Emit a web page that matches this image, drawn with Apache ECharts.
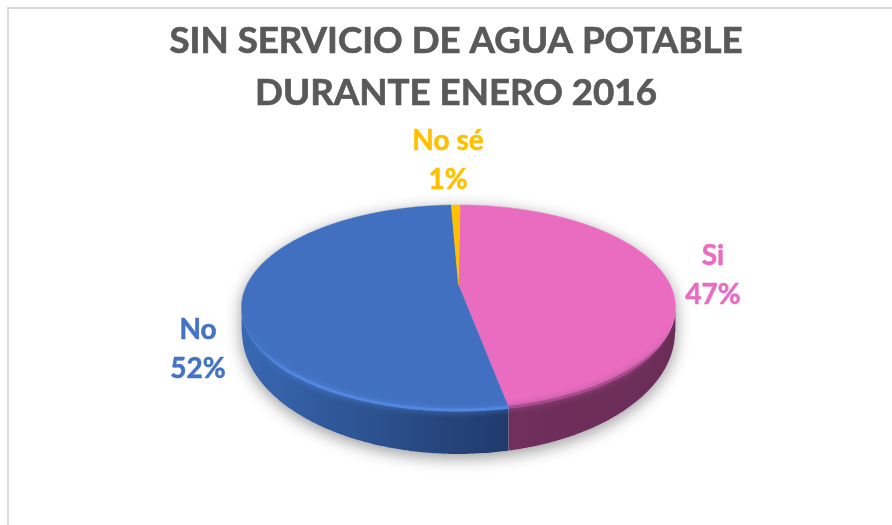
<!DOCTYPE html>
<html>
<head>
<meta charset="utf-8">
<script src="https://cdn.jsdelivr.net/npm/echarts@6/dist/echarts.min.js"></script>
<style>
  html, body { margin: 0; padding: 0; background: #fff; }
  #chart { width: 892px; height: 525px; }
</style>
</head>
<body>
<div id="chart"></div>
<script>
const titleText = 'SIN SERVICIO DE AGUA POTABLE\nDURANTE ENERO 2016';
const categories = ['Si', 'No', 'No sé'];
const values = [46.9, 52.3, 0.8];

const topColors = ['#E96CC0', '#4070BF', '#FFC000'];
const labelColors = ['#E96CC0', '#4472C4', '#FFC000'];
const rimColors = ['#A84C8C', '#5187E0', '#FFC000'];
const sideStops = [
  ['#6A2D58', '#702F5D'],
  ['#3868B2', '#203A6B'],
  ['#7F6000', '#7F6000']
];
const labelSpots = [[713, 275], [198, 349], [448, 160]];

// The pie is a tilted disc, so the centre sits above the middle of the ellipse
const apex = { x: 458.5, y: 285 };
const tilt = 0.2195;
const radiusX = 211.7;
const radiusY = 97.6;
const base = { x: 458.5, y: 332, rx: 216.5, ry: 122 };
const startAngle = 0.5;
const total = values.reduce((a, b) => a + b, 0);

const rad = (deg) => deg * Math.PI / 180;

const topPoint = (deg) => {
  const u = Math.sin(rad(deg));
  const v = -Math.cos(rad(deg));
  const w = 1 - tilt * v;
  return [apex.x + radiusX * u / w, apex.y + radiusY * v / w];
};

const basePoint = (p) => {
  const dx = Math.min(1, Math.abs(p[0] - base.x) / base.rx);
  return [p[0], Math.max(p[1], base.y + base.ry * Math.sqrt(1 - dx * dx))];
};

const arcPoints = (from, to) => {
  const points = [];
  for (let a = from; a < to; a += 0.5) points.push(topPoint(a));
  points.push(topPoint(to));
  return points;
};

const sliceRange = (index) => {
  const before = values.slice(0, index).reduce((a, b) => a + b, 0);
  return [
    startAngle + before / total * 360,
    startAngle + (before + values[index]) / total * 360
  ];
};

const renderSlice = (params) => {
  const i = params.dataIndex;
  const [from, to] = sliceRange(i);
  const children = [];

  // Soft shadow under the whole pie, added once
  if (i === 0) {
    const ring = arcPoints(103, 257).map(basePoint);
    children.push({
      type: 'polygon',
      z2: 0,
      shape: { points: ring.concat(arcPoints(257, 463)) },
      style: { fill: '#fff', shadowColor: 'rgba(0,0,0,0.4)', shadowBlur: 16, shadowOffsetY: 4 }
    });
  }

  // Side wall, only where the near half of the rim faces us
  const sideFrom = Math.max(from, 103);
  const sideTo = Math.min(to, 257);
  if (sideFrom < sideTo) {
    const rim = arcPoints(sideFrom, sideTo);
    const xs = rim.map((p) => p[0]);
    const left = i === 1 ? Math.max(...xs) : Math.min(...xs);
    const right = i === 1 ? Math.min(...xs) : Math.max(...xs);
    children.push({
      type: 'polygon',
      z2: 1,
      shape: { points: rim.concat(rim.map(basePoint).reverse()) },
      style: {
        fill: new echarts.graphic.LinearGradient(right, 0, left, 0, [
          { offset: 0, color: sideStops[i][0] },
          { offset: 1, color: sideStops[i][1] }
        ], true)
      }
    });
    // Bevel along the near edge, faded out towards the sides of the disc
    const edge = arcPoints(Math.max(from, 112), Math.min(to, 248));
    const edgeXs = edge.map((p) => p[0]);
    const outer = i === 1 ? Math.min(...edgeXs) : Math.max(...edgeXs);
    const inner = i === 1 ? outer + 45 : outer - 45;
    children.push({
      type: 'polyline',
      z2: 4,
      shape: { points: edge },
      style: {
        fill: null,
        stroke: new echarts.graphic.LinearGradient(outer, 0, inner, 0, [
          { offset: 0, color: rimColors[i] + '00' },
          { offset: 1, color: rimColors[i] }
        ], true),
        lineWidth: 3,
        shadowColor: rimColors[i],
        shadowBlur: 6
      }
    });
  }

  // Top face
  children.push({
    type: 'polygon',
    z2: 3,
    shape: { points: [[apex.x, apex.y]].concat(arcPoints(from, to)) },
    style: { fill: topColors[i], stroke: topColors[i], lineWidth: 0.5 }
  });

  // Category and percentage label
  children.push({
    type: 'text',
    z2: 5,
    style: {
      x: labelSpots[i][0],
      y: labelSpots[i][1],
      text: categories[i] + '\n' + Math.round(values[i] / total * 100) + '%',
      align: 'center',
      verticalAlign: 'middle',
      fill: labelColors[i],
      stroke: labelColors[i],
      lineWidth: 0.5,
      font: 'bold 28px Lato',
      lineHeight: 39
    }
  });

  return { type: 'group', children };
};

const chart = echarts.init(document.getElementById('chart'));

chart.setOption({
  backgroundColor: '#fff',
  animation: false,
  title: {
    text: titleText,
    left: 451,
    top: 10,
    textAlign: 'center',
    textStyle: {
      fontFamily: 'Lato',
      fontWeight: 'bold',
      fontSize: 36.7,
      lineHeight: 52,
      color: '#595959',
      textBorderColor: '#595959',
      textBorderWidth: 0.7
    }
  },
  graphic: [{
    type: 'rect',
    z: -1,
    shape: { x: 8, y: 8, width: 900, height: 540 },
    style: { fill: '#fff', stroke: '#D9D9D9', lineWidth: 2 }
  }],
  series: [{
    type: 'custom',
    coordinateSystem: 'none',
    renderItem: renderSlice,
    data: values
  }]
});
</script>
</body>
</html>
